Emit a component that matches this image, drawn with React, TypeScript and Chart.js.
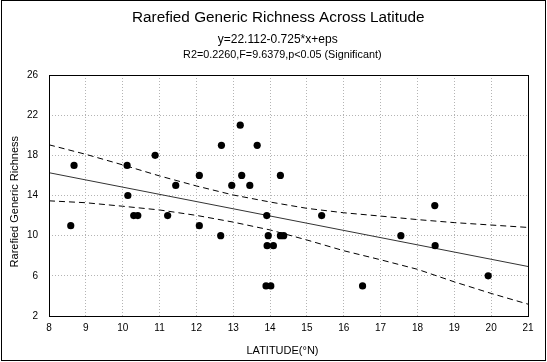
import React, { useEffect, useRef } from "react";
import { Chart, registerables } from "chart.js";

Chart.register(...registerables);

// Observed samples (latitude °N, rarefied generic richness)
const latitude = [8.59, 8.68, 10.12, 10.14, 10.3, 10.41, 10.88, 11.22, 11.44, 12.08, 12.08, 12.66, 12.68, 12.96, 13.19, 13.23, 13.45, 13.65, 13.91, 13.95, 13.92, 14.09, 13.89, 14.02, 14.28, 14.28, 14.37, 15.4, 16.51, 17.55, 18.47, 18.48, 19.92];
const richness = [11, 17, 17, 14, 12, 12, 18, 12, 15, 16, 11, 10, 19, 15, 21, 16, 15, 19, 12, 10, 9, 9, 5, 5, 16, 10, 10, 12, 5, 10, 13, 9, 6];

// Fitted regression line (read at the plot edges)
const fitLatitude = [8, 21];
const fitRichness = [16.27, 6.93];

// 95% confidence band
const bandLatitude = [8, 9, 10, 11, 12, 13, 14, 15, 16, 17, 18, 19, 20, 21];
const bandUpper = [19.05, 18.1, 17.05, 15.95, 14.95, 14.05, 13.35, 12.72, 12.28, 11.95, 11.6, 11.3, 11.06, 10.82];
const bandLower = [13.47, 13.28, 12.93, 12.56, 12.02, 11.35, 10.57, 9.57, 8.5, 7.6, 6.65, 5.4, 4.25, 3.18];

const xTicksMin = 8;
const xTicksMax = 21;
const yTicksMin = 2;
const yTicksMax = 26;
const yStep = 4;

const titleText = "Rarefied Generic Richness Across Latitude";
const subtitle1 = "y=22.112-0.725*x+eps";
const subtitle2 = "R2=0.2260,F=9.6379,p<0.05 (Significant)";
const xTitle = "LATITUDE(°N)";
const yTitle = "Rarefied Generic Richness";

const FONT = "'Liberation Sans', Arial, sans-serif";

const zip = (xs: number[], ys: number[]) => xs.map((x, i) => ({ x, y: ys[i] }));

const decorPlugin = {
  id: "decor",
  afterDraw(chart: any) {
    const ctx = chart.ctx as CanvasRenderingContext2D;
    const a = chart.chartArea;
    ctx.save();
    ctx.strokeStyle = "#000";
    ctx.lineWidth = 1;
    ctx.setLineDash([]);
    // outer frame
    ctx.strokeRect(1.5, 0.5, 544, 360);
    // plot frame
    ctx.strokeRect(Math.round(a.left) + 0.5, Math.round(a.top) + 0.5, Math.round(a.right - a.left), Math.round(a.bottom - a.top));

    ctx.fillStyle = "#000";
    ctx.textAlign = "center";
    ctx.textBaseline = "alphabetic";
    ctx.font = `15.3px ${FONT}`;
    ctx.fillText(titleText, 278.3, 22);
    ctx.font = `12px ${FONT}`;
    ctx.fillText(subtitle1, 277.7, 42.5);
    ctx.font = `10.8px ${FONT}`;
    ctx.fillText(subtitle2, 282.3, 58);
    ctx.font = `11px ${FONT}`;
    ctx.fillText(xTitle, 282.5, 354);

    ctx.translate(17.5, 201.7);
    ctx.rotate(-Math.PI / 2);
    ctx.fillText(yTitle, 0, 0);
    ctx.restore();
  },
};

export default function App() {
  const ref = useRef<HTMLCanvasElement | null>(null);

  useEffect(() => {
    document.body.style.margin = "0";
    const canvas = ref.current;
    if (!canvas) return;
    const chart = new Chart(canvas, {
      type: "scatter",
      data: {
        datasets: [
          {
            label: "Upper 95%",
            data: zip(bandLatitude, bandUpper),
            showLine: true,
            borderColor: "#000",
            borderWidth: 1,
            borderDash: [6, 4],
            pointRadius: 0,
            fill: false,
            tension: 0,
            order: 3,
          },
          {
            label: "Lower 95%",
            data: zip(bandLatitude, bandLower),
            showLine: true,
            borderColor: "#000",
            borderWidth: 1,
            borderDash: [6, 4],
            pointRadius: 0,
            fill: false,
            tension: 0,
            order: 3,
          },
          {
            label: "Fit",
            data: zip(fitLatitude, fitRichness),
            showLine: true,
            borderColor: "#333",
            borderWidth: 1,
            pointRadius: 0,
            fill: false,
            order: 2,
          },
          {
            label: "Samples",
            data: zip(latitude, richness),
            showLine: false,
            pointRadius: 3.6,
            pointBorderWidth: 0,
            pointBackgroundColor: "#000",
            backgroundColor: "#000",
            borderColor: "#000",
            order: 1,
          },
        ],
      },
      options: {
        animation: false,
        responsive: false,
        events: [],
        layout: { padding: { top: 75, right: 19, left: 0, bottom: 0 } },
        plugins: {
          legend: { display: false },
          title: { display: false },
          tooltip: { enabled: false },
        },
        scales: {
          x: {
            type: "linear",
            min: xTicksMin,
            max: xTicksMax,
            afterFit: (s: any) => {
              s.height = 46;
            },
            ticks: {
              stepSize: 1,
              color: "#000",
              padding: 6,
              font: { family: FONT, size: 10 },
              maxRotation: 0,
            },
            grid: { color: "#b4b4b4", lineWidth: 1, drawTicks: false },
            border: { display: false, dash: [1, 2] },
          },
          y: {
            type: "linear",
            min: yTicksMin,
            max: yTicksMax,
            afterFit: (s: any) => {
              s.width = 49;
            },
            ticks: {
              stepSize: yStep,
              color: "#000",
              padding: 11,
              font: { family: FONT, size: 10 },
            },
            grid: { color: "#b4b4b4", lineWidth: 1, drawTicks: false },
            border: { display: false, dash: [1, 2] },
          },
        },
      },
      plugins: [decorPlugin],
    });
    return () => chart.destroy();
  }, []);

  return (
    <div style={{ width: 547, height: 362, background: "#fff" }}>
      <canvas ref={ref} width={547} height={362} style={{ display: "block" }} />
    </div>
  );
}
